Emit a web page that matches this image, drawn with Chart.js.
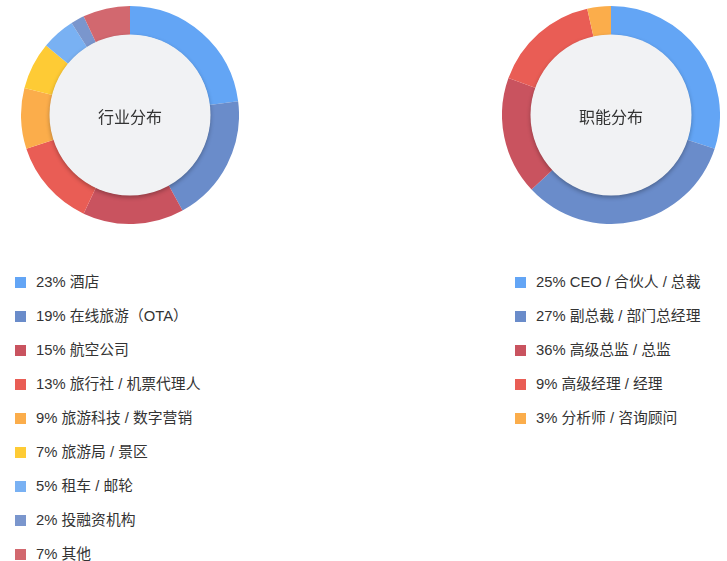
<!DOCTYPE html>
<html lang="zh">
<head>
  <meta charset="UTF-8" />
  <title>行业分布 / 职能分布</title>
  <script src="https://cdn.jsdelivr.net/npm/chart.js"></script>
  <style>
    body { margin: 0; background: #fff; width: 727px; height: 561px; position: relative; overflow: hidden;
           font-family: "Liberation Sans", "Noto Sans CJK SC", sans-serif; color: #333; }
    .donut { position: absolute; top: 6px; width: 218px; height: 218px; }
    .leyenda { position: absolute; top: 265px; margin: 0; padding: 0; list-style: none; font-size: 14.8px; }
    .leyenda li { height: 34px; line-height: 34px; white-space: nowrap; }
    .leyenda i { display: inline-block; width: 11px; height: 11px; margin-right: 10px; vertical-align: -1px; }
  </style>
</head>
<body>

  <div class="donut" style="left:21px"><canvas id="graficoIndustria"></canvas></div>
  <div class="donut" style="left:502px"><canvas id="graficoFuncion"></canvas></div>
  <ul class="leyenda" id="leyendaIndustria" style="left:15px"></ul>
  <ul class="leyenda" id="leyendaFuncion" style="left:515px"></ul>

  <script>
    // 行业分布
    const industryNames = ['酒店', '在线旅游（OTA）', '航空公司', '旅行社 / 机票代理人', '旅游科技 / 数字营销',
                           '旅游局 / 景区', '租车 / 邮轮', '投融资机构', '其他'];
    const industryPercents = [23, 19, 15, 13, 9, 7, 5, 2, 7];

    // 职能分布 (arc sizes as drawn, legend text as printed)
    const jobNames = ['CEO / 合伙人 / 总裁', '副总裁 / 部门总经理', '高级总监 / 总监', '高级经理 / 经理', '分析师 / 咨询顾问'];
    const jobPercents = [25, 27, 36, 9, 3];
    const jobArcShares = [30, 33, 17.5, 16, 3.5];

    const industryColors = ['#63a5f5', '#6a8cca', '#c9535f', '#e95d55', '#fbad4b', '#fecb35', '#79b1f3', '#7a96cd', '#d2686f'];
    const jobColors = ['#63a5f5', '#6a8cca', '#c9535f', '#e95d55', '#fbad4b'];

    const discoCentral = {
      id: 'discoCentral',
      afterDraw(chart) {
        const arc = chart.getDatasetMeta(0).data[0];
        if (!arc) return;
        const ctx = chart.ctx;
        ctx.save();
        ctx.shadowColor = 'rgba(0,0,0,0.28)';
        ctx.shadowBlur = 4;
        ctx.shadowOffsetY = 2;
        ctx.beginPath();
        ctx.arc(arc.x, arc.y, arc.innerRadius + 0.5, 0, Math.PI * 2);
        ctx.fillStyle = '#f1f2f4';
        ctx.fill();
        ctx.restore();
        ctx.save();
        ctx.fillStyle = '#333';
        ctx.font = '16px "Noto Sans CJK SC", sans-serif';
        ctx.textAlign = 'center';
        ctx.textBaseline = 'middle';
        ctx.fillText(chart.options.plugins.discoCentral.texto, arc.x, arc.y + 1.5);
        ctx.restore();
      }
    };

    function dibujarDona(id, etiquetas, valores, colores, titulo) {
      new Chart(document.getElementById(id).getContext('2d'), {
        type: 'doughnut',
        data: {
          labels: etiquetas,
          datasets: [{ data: valores, backgroundColor: colores, borderWidth: 0 }]
        },
        options: {
          responsive: true,
          maintainAspectRatio: false,
          animation: false,
          cutout: '73.4%',
          plugins: {
            legend: { display: false },
            tooltip: { enabled: false },
            discoCentral: { texto: titulo }
          }
        },
        plugins: [discoCentral]
      });
    }

    function dibujarLeyenda(id, nombres, porcentajes, colores) {
      document.getElementById(id).innerHTML = nombres.map((n, i) =>
        `<li><i style="background:${colores[i]}"></i>${porcentajes[i]}% ${n}</li>`).join('');
    }

    window.onload = function () {
      dibujarDona('graficoIndustria', industryNames, industryPercents, industryColors, '行业分布');
      dibujarDona('graficoFuncion', jobNames, jobArcShares, jobColors, '职能分布');
      dibujarLeyenda('leyendaIndustria', industryNames, industryPercents, industryColors);
      dibujarLeyenda('leyendaFuncion', jobNames, jobPercents, jobColors);
    };
  </script>

</body>
</html>
